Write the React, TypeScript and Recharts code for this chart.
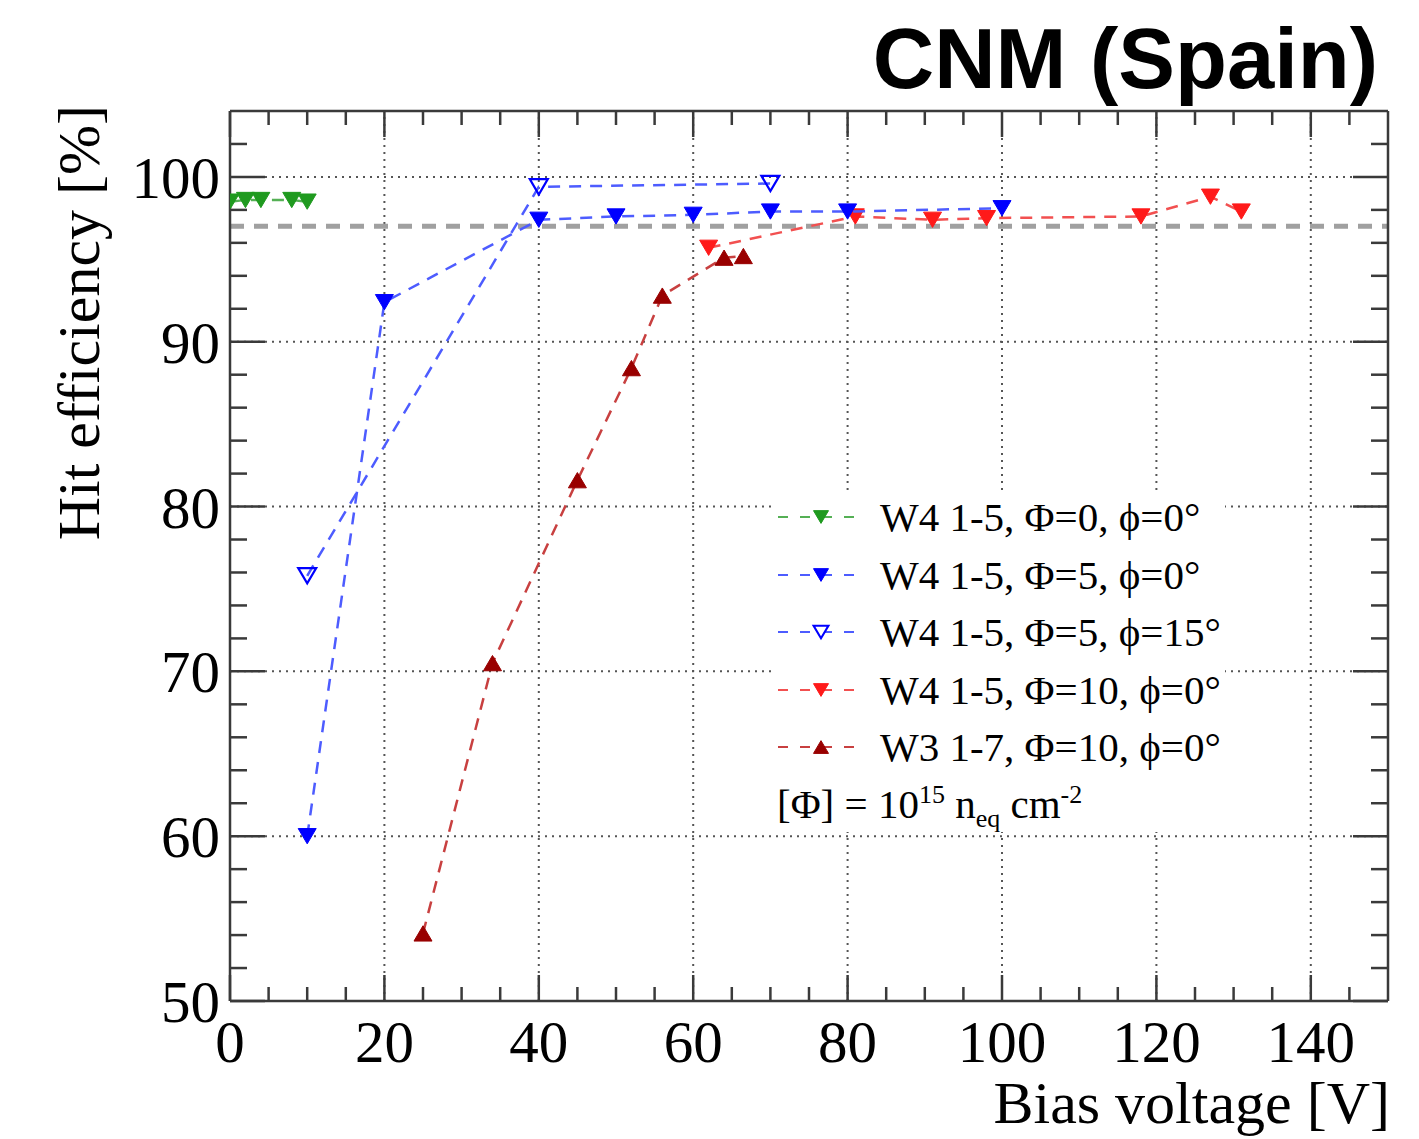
import React from 'react';
import { ComposedChart, Scatter, XAxis, YAxis, ReferenceLine } from 'recharts';

// ---- data ----
const greenX = [0, 2, 4, 8, 10];
const greenY = [98.5, 98.6, 98.6, 98.6, 98.5];

const blueX = [10, 20, 40, 50, 60, 70, 80, 100];
const blueY = [60.0, 92.4, 97.4, 97.6, 97.7, 97.9, 97.9, 98.1];

const blueOpenX = [10, 40, 70];
const blueOpenY = [75.8, 99.4, 99.6];

const redX = [62, 81, 91, 98, 118, 127, 131];
const redY = [95.7, 97.6, 97.4, 97.5, 97.6, 98.8, 97.9];

const darkRedX = [25, 34, 45, 52, 56, 64, 66.5];
const darkRedY = [54.1, 70.5, 81.6, 88.4, 92.8, 95.1, 95.2];

const thresholdY = 97;

const xAll = [0, 5, 10, 15, 20, 25, 30, 35, 40, 45, 50, 55, 60, 65, 70, 75, 80, 85, 90, 95, 100, 105, 110, 115, 120, 125, 130, 135, 140, 145];
const yAll = [50, 52, 54, 56, 58, 60, 62, 64, 66, 68, 70, 72, 74, 76, 78, 80, 82, 84, 86, 88, 90, 92, 94, 96, 98, 100, 102];
const xGrid = [20, 40, 60, 80, 100, 120, 140];
const yGrid = [60, 70, 80, 90, 100];

const legendLabels = [
  'W4 1-5, Φ=0, ϕ=0°',
  'W4 1-5, Φ=5, ϕ=0°',
  'W4 1-5, Φ=5, ϕ=15°',
  'W4 1-5, Φ=10, ϕ=0°',
  'W3 1-7, Φ=10, ϕ=0°',
];

const zip = (xs: number[], ys: number[]) => xs.map((x, i) => ({ x, y: ys[i] }));

const GREEN = '#1f9a1f';
const BLUE = '#0000ff';
const BLUE_LINE = '#4d5cff';
const RED = '#ff1a1a';
const RED_LINE = '#f25050';
const DARKRED = '#990000';
const DARKRED_LINE = '#c84040';

const SERIF = '"Liberation Serif", "DejaVu Serif", serif';
const SANS = '"Liberation Sans", Arial, sans-serif';
const AXIS = '#3a3a3a';

function triPoints(cx: number, cy: number, s: number, up: boolean) {
  const h = s * 0.85;
  if (up) {
    return `${cx - s / 2},${cy + h / 2} ${cx + s / 2},${cy + h / 2} ${cx},${cy - h / 2}`;
  }
  return `${cx - s / 2},${cy - h / 2} ${cx + s / 2},${cy - h / 2} ${cx},${cy + h / 2}`;
}

const makeShape = (color: string, up: boolean, open: boolean, size = 18) => (props: any) => {
  const { cx, cy } = props;
  if (cx == null || cy == null) return <g />;
  return (
    <polygon
      points={triPoints(cx, cy, size, up)}
      fill={open ? 'none' : color}
      stroke={color}
      strokeWidth={open ? 2.2 : 1}
    />
  );
};

const BottomTick = (props: any) => {
  const { x, y, payload } = props;
  const v = payload.value;
  const major = v % 20 === 0;
  return (
    <g>
      <line x1={x} y1={y} x2={x} y2={y - (major ? 26 : 14)} stroke={AXIS} strokeWidth={2.5} />
      {major && (
        <text x={x} y={y + 61} textAnchor="middle" fontFamily={SERIF} fontSize={59} fill="#000">
          {v}
        </text>
      )}
    </g>
  );
};

const TopTick = (props: any) => {
  const { x, y, payload } = props;
  const v = payload.value;
  const major = v % 20 === 0;
  return <line x1={x} y1={y} x2={x} y2={y + (major ? 26 : 14)} stroke={AXIS} strokeWidth={2.5} />;
};

const LeftTick = (props: any) => {
  const { x, y, payload } = props;
  const v = payload.value;
  const major = v % 10 === 0;
  return (
    <g>
      <line x1={x} y1={y} x2={x + (major ? 35 : 17)} y2={y} stroke={AXIS} strokeWidth={2.5} />
      {major && (
        <text x={x - 10} y={y + 21} textAnchor="end" fontFamily={SERIF} fontSize={59} fill="#000">
          {v}
        </text>
      )}
    </g>
  );
};

const RightTick = (props: any) => {
  const { x, y, payload } = props;
  const v = payload.value;
  const major = v % 10 === 0;
  return <line x1={x} y1={y} x2={x - (major ? 35 : 17)} y2={y} stroke={AXIS} strokeWidth={2.5} />;
};

const LegendSymbol = ({ line, marker, up, open }: { line: string; marker: string; up: boolean; open: boolean }) => (
  <svg width={90} height={30} style={{ display: 'block' }}>
    <line x1={3} y1={15} x2={88} y2={15} stroke={line} strokeWidth={2} strokeDasharray="10 12" />
    <polygon points={triPoints(46, 15, 15, up)} fill={open ? '#fff' : marker} stroke={marker} strokeWidth={open ? 2 : 1} />
  </svg>
);

const legendStyles = [
  { line: '#55b055', marker: GREEN, up: false, open: false },
  { line: BLUE_LINE, marker: BLUE, up: false, open: false },
  { line: BLUE_LINE, marker: BLUE, up: false, open: true },
  { line: RED_LINE, marker: RED, up: false, open: false },
  { line: DARKRED_LINE, marker: DARKRED, up: true, open: false },
];

export default function App() {
  const W = 1411;
  const H = 1131;
  return (
    <div style={{ position: 'relative', width: W, height: H }}>
      <ComposedChart width={W} height={H} margin={{ top: 102, right: 30, bottom: 137, left: 221 }}>
        <XAxis
          xAxisId="b"
          dataKey="x"
          type="number"
          domain={[0, 150]}
          allowDataOverflow
          ticks={xAll}
          interval={0}
          height={1}
          tickSize={0}
          tickMargin={0}
          tickLine={false}
          axisLine={{ stroke: AXIS, strokeWidth: 2.5 }}
          tick={(p: any) => <BottomTick {...p} />}
        />
        <XAxis
          xAxisId="t"
          orientation="top"
          dataKey="x"
          type="number"
          domain={[0, 150]}
          allowDataOverflow
          ticks={xAll}
          interval={0}
          height={1}
          tickSize={0}
          tickMargin={0}
          tickLine={false}
          axisLine={{ stroke: AXIS, strokeWidth: 2.5 }}
          tick={(p: any) => <TopTick {...p} />}
        />
        <YAxis
          yAxisId="l"
          dataKey="y"
          type="number"
          domain={[50, 104]}
          allowDataOverflow
          ticks={yAll}
          interval={0}
          width={1}
          tickSize={0}
          tickMargin={0}
          tickLine={false}
          axisLine={{ stroke: AXIS, strokeWidth: 2.5 }}
          tick={(p: any) => <LeftTick {...p} />}
        />
        <YAxis
          yAxisId="r"
          orientation="right"
          dataKey="y"
          type="number"
          domain={[50, 104]}
          allowDataOverflow
          ticks={yAll}
          interval={0}
          width={1}
          tickSize={0}
          tickMargin={0}
          tickLine={false}
          axisLine={{ stroke: AXIS, strokeWidth: 2.5 }}
          tick={(p: any) => <RightTick {...p} />}
        />
        {xGrid.map((v) => (
          <ReferenceLine key={'gx' + v} x={v} xAxisId="b" yAxisId="l" stroke="#555" strokeWidth={2} strokeDasharray="2 5" />
        ))}
        {yGrid.map((v) => (
          <ReferenceLine key={'gy' + v} y={v} xAxisId="b" yAxisId="l" stroke="#555" strokeWidth={2} strokeDasharray="2 5" />
        ))}
        <ReferenceLine y={thresholdY} xAxisId="b" yAxisId="l" stroke="#a0a0a0" strokeWidth={5} strokeDasharray="14 10" />
        <Scatter
          xAxisId="b"
          yAxisId="l"
          data={zip(darkRedX, darkRedY)}
          isAnimationActive={false}
          line={{ stroke: DARKRED_LINE, strokeWidth: 2.5, strokeDasharray: '12 9' }}
          shape={makeShape(DARKRED, true, false)}
        />
        <Scatter
          xAxisId="b"
          yAxisId="l"
          data={zip(redX, redY)}
          isAnimationActive={false}
          line={{ stroke: RED_LINE, strokeWidth: 2.5, strokeDasharray: '12 9' }}
          shape={makeShape(RED, false, false)}
        />
        <Scatter
          xAxisId="b"
          yAxisId="l"
          data={zip(blueOpenX, blueOpenY)}
          isAnimationActive={false}
          line={{ stroke: BLUE_LINE, strokeWidth: 2.5, strokeDasharray: '12 9' }}
          shape={makeShape(BLUE, false, true)}
        />
        <Scatter
          xAxisId="b"
          yAxisId="l"
          data={zip(blueX, blueY)}
          isAnimationActive={false}
          line={{ stroke: BLUE_LINE, strokeWidth: 2.5, strokeDasharray: '12 9' }}
          shape={makeShape(BLUE, false, false)}
        />
        <Scatter
          xAxisId="b"
          yAxisId="l"
          data={zip(greenX, greenY)}
          isAnimationActive={false}
          line={{ stroke: '#55b055', strokeWidth: 2.5, strokeDasharray: '12 9' }}
          shape={makeShape(GREEN, false, false)}
        />
      </ComposedChart>

      {/* legend */}
      <div
        style={{
          position: 'absolute',
          left: 765,
          top: 484,
          width: 452,
          height: 340,
          background: '#fff',
          fontFamily: SERIF,
          fontSize: 41,
          color: '#000',
        }}
      >
        {legendLabels.map((lab, i) => (
          <div
            key={lab}
            style={{ position: 'absolute', left: 2, top: 3 + i * 57.5, height: 44, display: 'flex', alignItems: 'center', whiteSpace: 'nowrap' }}
          >
            <LegendSymbol {...legendStyles[i]} />
            <span style={{ marginLeft: 15 }}>{lab}</span>
          </div>
        ))}
        <div style={{ position: 'absolute', left: 4, top: 288, whiteSpace: 'nowrap' }}>
          [Φ] = 10<sup style={{ fontSize: 26 }}>15</sup> n<sub style={{ fontSize: 26 }}>eq</sub> cm<sup style={{ fontSize: 26 }}>-2</sup>
        </div>
      </div>

      {/* titles */}
      <svg width={W} height={H} style={{ position: 'absolute', left: 0, top: 0, pointerEvents: 'none' }}>
        <text x={1370} y={80} textAnchor="end" fontFamily={SANS} fontWeight="bold" fontSize={85} fill="#000">
          CNM (Spain)
        </text>
        <text
          x={91}
          y={97}
          textAnchor="end"
          transform="rotate(-90 91 97)"
          fontFamily={SERIF}
          fontSize={60}
          fill="#000"
        >
          Hit efficiency [%]
        </text>
        <text x={1382} y={1115} textAnchor="end" fontFamily={SERIF} fontSize={60} fill="#000">
          Bias voltage [V]
        </text>
      </svg>
    </div>
  );
}
